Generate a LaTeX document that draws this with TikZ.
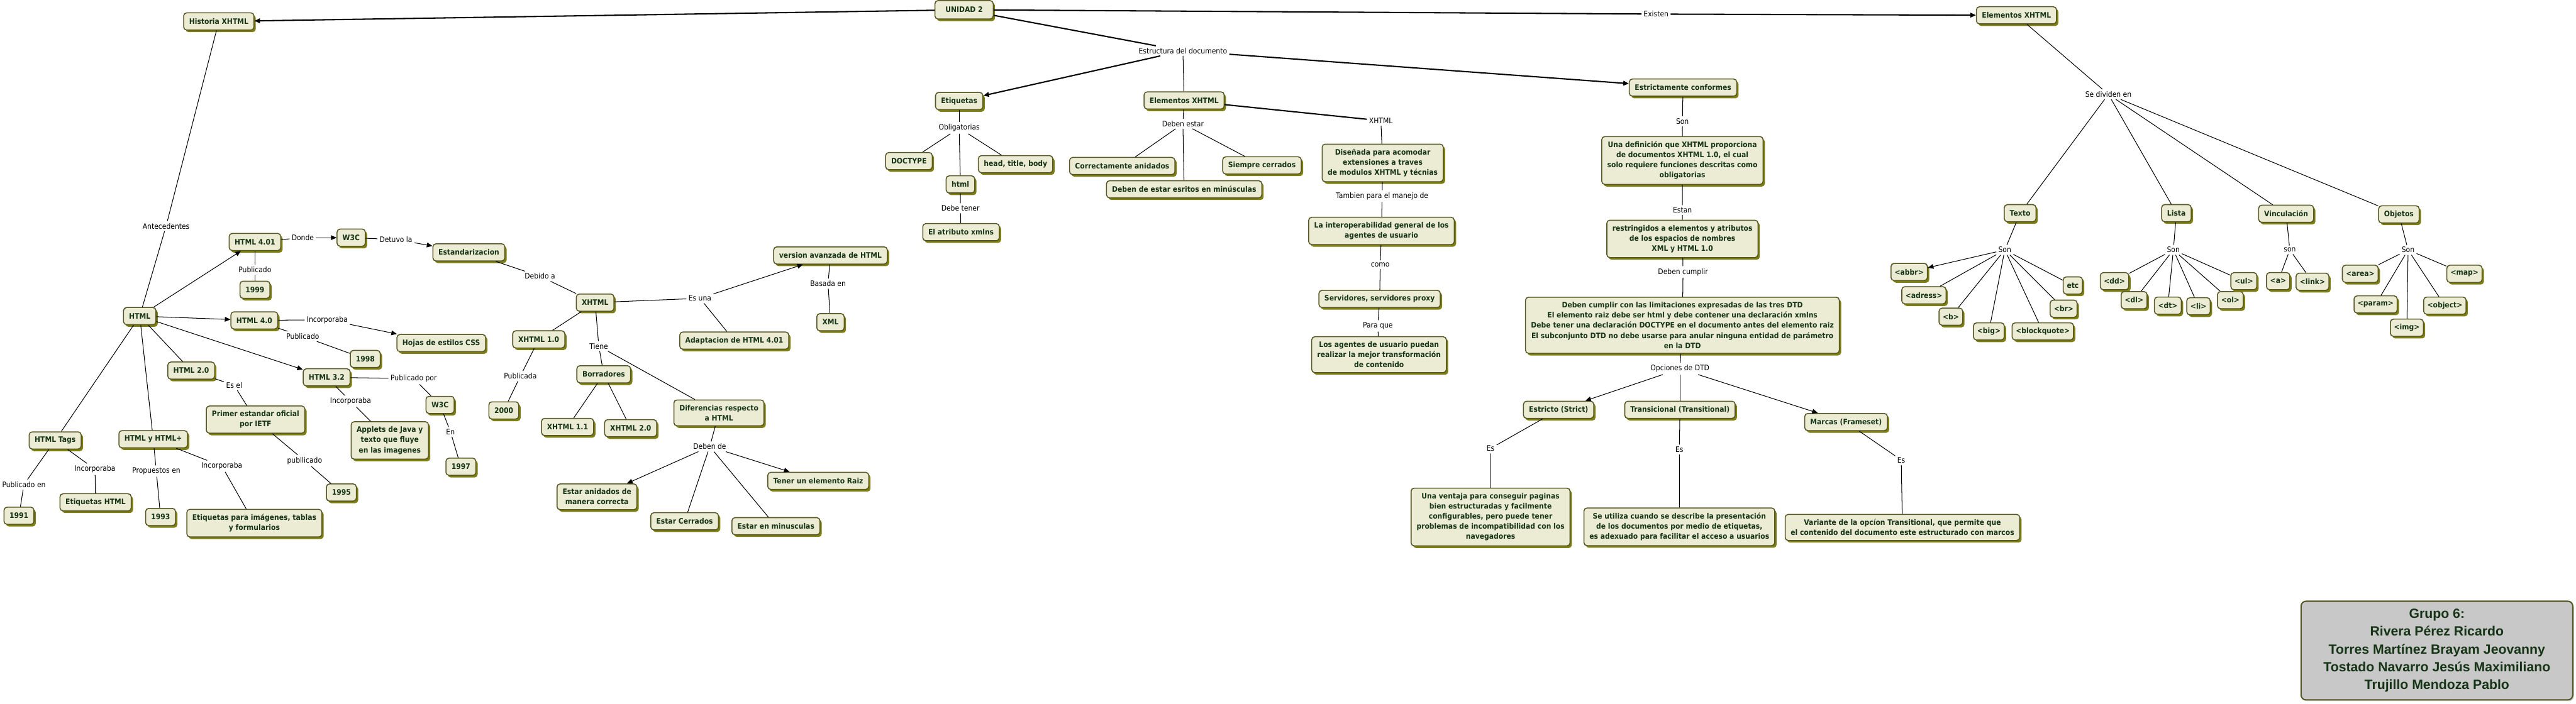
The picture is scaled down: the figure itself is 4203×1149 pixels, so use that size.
\documentclass[tikz,border=0pt]{standalone}
\usepackage{fontspec}
\newfontfamily\cmapfont{DejaVu Sans}[FakeStretch=0.9]
\newfontfamily\groupfont{Liberation Sans}
\usetikzlibrary{arrows.meta,shadows}
\definecolor{cfill}{RGB}{236,236,212}
\definecolor{cline}{RGB}{86,86,38}
\definecolor{cshade}{RGB}{128,128,16}
\definecolor{ctext}{RGB}{22,52,22}
\definecolor{gfill}{RGB}{200,200,200}

\begin{document}
\begin{tikzpicture}[
  x=0.01cm, y=-0.01cm,
  cpt/.style={draw=cline, line width=0.45pt, fill=cfill, rounded corners=0.05cm,
    drop shadow={shadow xshift=0.03cm, shadow yshift=-0.035cm, fill=cshade, opacity=1},
    text=ctext, font=\cmapfont\bfseries\fontsize{3.5}{4.7}\selectfont,
    align=center, inner xsep=0.09cm, inner ysep=0.08cm, minimum height=0.28cm},
  lnk/.style={font=\cmapfont\fontsize{3.5}{4.2}\selectfont, inner sep=0.8pt},
  con/.style={line width=0.3pt},
  bold/.style={line width=0.6pt},
  arr/.style={-{Triangle[length=2.6pt,width=2.2pt]}},
  grp/.style={draw=cline, line width=0.6pt, fill=gfill, rounded corners=0.08cm,
    drop shadow={shadow xshift=0.02cm, shadow yshift=-0.02cm, fill=black!20, opacity=1},
    text=ctext, font=\groupfont\bfseries\fontsize{6.2}{8.25}\selectfont,
    align=center, minimum width=4.43cm, minimum height=1.61cm}
]
\fill[white] (0,0) rectangle (4203,1149);
\useasboundingbox (0,0) rectangle (4203,1149);

% ---------------- top: the unit and its three branches ----------------------
\node[cpt, minimum width=0.95cm, minimum height=0.3cm] (unidad) at (1573,16) {UNIDAD 2};
\node[cpt] (historia) at (357,35) {Historia XHTML};
\node[cpt] (elemR) at (3290,25) {Elementos XHTML};
\node[lnk] (existen) at (2702,23) {Existen};
\node[lnk] (estructura) at (1930,83) {Estructura del documento};

\draw[bold, arr] (unidad) -- (historia);
\draw[bold] (unidad) -- (existen);
\draw[bold, arr] (existen) -- (elemR);
\draw[bold] (unidad) -- (estructura);

% ---------------- left: history of HTML -------------------------------------
\node[lnk] (antec) at (271,369) {Antecedentes};
\node[cpt] (html) at (228,516) {HTML};
\node[cpt] (h401) at (416,395) {HTML 4.01};
\node[lnk] (donde) at (494,388) {Donde};
\node[cpt] (w3cA) at (573,388) {W3C};
\node[lnk] (detuvo) at (646,391) {Detuvo la};
\node[cpt] (estandar) at (765,412) {Estandarizacion};
\node[lnk] (pub401) at (416,440) {Publicado};
\node[cpt] (y1999) at (416,473) {1999};
\node[cpt] (h40) at (415,523) {HTML 4.0};
\node[lnk] (inc40) at (534,522) {Incorporaba};
\node[cpt] (css) at (720,560) {Hojas de estilos CSS};
\node[lnk] (pub40) at (494,549) {Publicado};
\node[cpt] (y1998) at (596,586) {1998};
\node[cpt] (h20) at (312,605) {HTML 2.0};
\node[lnk] (esel) at (382,629) {Es el};
\node[cpt] (primer) at (417,685) {Primer estandar oficial\\por IETF};
\node[lnk] (pub20) at (497,752) {publlicado};
\node[cpt] (y1995) at (557,804) {1995};
\node[cpt] (h32) at (533,616) {HTML 3.2};
\node[lnk] (pubpor) at (675,618) {Publicado por};
\node[cpt] (w3cB) at (718,661) {W3C};
\node[lnk] (en) at (735,705) {En};
\node[cpt] (y1997) at (752,762) {1997};
\node[lnk] (inc32) at (572,655) {Incorporaba};
\node[cpt] (applets) at (636,719) {Applets de Java y\\texto que fluye\\en las imagenes};
\node[cpt] (tags) at (90,719) {HTML Tags};
\node[lnk] (pubEn) at (39,791) {Publicado en};
\node[cpt] (y1991) at (31,842) {1991};
\node[lnk] (incTags) at (155,766) {Incorporaba};
\node[cpt] (etiqhtml) at (156,820) {Etiquetas HTML};
\node[cpt] (hplus) at (250,717) {HTML y HTML+};
\node[lnk] (propuestos) at (255,769) {Propuestos en};
\node[cpt] (y1993) at (262,844) {1993};
\node[lnk] (incPlus) at (362,761) {Incorporaba};
\node[cpt] (etiqimg) at (415,854) {Etiquetas para imágenes, tablas\\y formularios};

\draw[con] (historia) -- (antec) -- (html);
\foreach \v in {h401,h40,h32} \draw[con, arr] (html) -- (\v);
\foreach \v in {h20,tags,hplus} \draw[con] (html) -- (\v);
\draw[con] (h401) -- (donde);
\draw[con, arr] (donde) -- (w3cA);
\draw[con] (w3cA) -- (detuvo);
\draw[con, arr] (detuvo) -- (estandar);
\draw[con] (h401) -- (pub401) -- (y1999);
\draw[con] (h40) -- (inc40);
\draw[con, arr] (inc40) -- (css);
\draw[con] (h40) -- (pub40) -- (y1998);
\draw[con] (h20) -- (esel) -- (primer) -- (pub20) -- (y1995);
\draw[con] (h32) -- (pubpor) -- (w3cB) -- (en) -- (y1997);
\draw[con] (h32) -- (inc32) -- (applets);
\draw[con] (tags) -- (pubEn) -- (y1991);
\draw[con] (tags) -- (incTags) -- (etiqhtml);
\draw[con] (hplus) -- (propuestos) -- (y1993);
\draw[con] (hplus) -- (incPlus) -- (etiqimg);

% ---------------- left: XHTML ------------------------------------------------
\node[lnk] (debido) at (881,451) {Debido a};
\node[cpt] (xhtml) at (971,494) {XHTML};
\node[lnk] (esuna) at (1142,487) {Es una};
\node[cpt] (version) at (1355,417) {version avanzada de HTML};
\node[lnk] (basada) at (1351,463) {Basada en};
\node[cpt] (xml) at (1355,526) {XML};
\node[cpt] (adapt) at (1198,556) {Adaptacion de HTML 4.01};
\node[cpt] (x10) at (879,554) {XHTML 1.0};
\node[lnk] (publicada) at (849,614) {Publicada};
\node[cpt] (y2000) at (822,670) {2000};
\node[lnk] (tiene) at (977,565) {Tiene};
\node[cpt] (borr) at (985,611) {Borradores};
\node[cpt] (x11) at (926,697) {XHTML 1.1};
\node[cpt] (x20) at (1029,699) {XHTML 2.0};
\node[cpt] (difer) at (1173,674) {Diferencias respecto\\a HTML};
\node[lnk] (debende) at (1158,729) {Deben de};
\node[cpt] (anidados) at (974,811) {Estar anidados de\\manera correcta};
\node[cpt] (cerrados) at (1117,851) {Estar Cerrados};
\node[cpt] (minus) at (1266,859) {Estar en minusculas};
\node[cpt] (raiz) at (1335,785) {Tener un elemento Raiz};

\draw[con] (estandar) -- (debido) -- (xhtml);
\draw[con] (xhtml) -- (esuna);
\draw[con, arr] (esuna) -- (version);
\draw[con] (esuna) -- (adapt);
\draw[con] (version) -- (basada) -- (xml);
\draw[con] (xhtml) -- (x10);
\draw[con] (x10) -- (publicada) -- (y2000);
\draw[con] (xhtml) -- (tiene) -- (borr);
\draw[con] (tiene) -- (difer);
\draw[con] (borr) -- (x11);
\draw[con] (borr) -- (x20);
\draw[con] (difer) -- (debende);
\draw[con, arr] (debende) -- (anidados);
\draw[con] (debende) -- (cerrados);
\draw[con] (debende) -- (minus);
\draw[con, arr] (debende) -- (raiz);

% ---------------- middle: document structure --------------------------------
\node[cpt] (etiquetas) at (1565,165) {Etiquetas};
\node[cpt] (elemM) at (1932,164) {Elementos XHTML};
\node[cpt] (estrict) at (2746,143) {Estrictamente conformes};
\node[lnk] (oblig) at (1565,209) {Obligatorias};
\node[cpt] (doctype) at (1483,263) {DOCTYPE};
\node[cpt] (htmltag) at (1567,301) {html};
\node[cpt] (head) at (1657,268) {head, title, body};
\node[lnk] (debetener) at (1567,340) {Debe tener};
\node[cpt] (xmlns) at (1568,379) {El atributo xmlns};
\node[lnk] (debenestar) at (1930,202) {Deben estar};
\node[cpt] (correct) at (1831,271) {Correctamente anidados};
\node[cpt] (siempre) at (2059,270) {Siempre cerrados};
\node[cpt] (minusc) at (1932,309) {Deben de estar esritos en minúsculas};
\node[lnk] (xhtmlLbl) at (2253,197) {XHTML};
\node[cpt] (disenada) at (2256,266) {Diseñada para acomodar\\extensiones a traves\\de modulos XHTML y técnias};
\node[lnk] (tambien) at (2255,320) {Tambien para el manejo de};
\node[cpt] (interop) at (2254,377) {La interoperabilidad general de los\\agentes de usuario};
\node[lnk] (como) at (2252,432) {como};
\node[cpt] (servidores) at (2251,488) {Servidores, servidores proxy};
\node[lnk] (paraque) at (2248,532) {Para que};
\node[cpt] (agentes) at (2250,579) {Los agentes de usuario puedan\\realizar la mejor transformación\\de contenido};

\draw[bold, arr] (estructura) -- (etiquetas);
\draw[con] (estructura) -- (elemM);
\draw[bold, arr] (estructura) -- (estrict);
\draw[con] (etiquetas) -- (oblig);
\foreach \v in {doctype,htmltag,head} \draw[con] (oblig) -- (\v);
\draw[con] (htmltag) -- (debetener) -- (xmlns);
\draw[con] (elemM) -- (debenestar);
\foreach \v in {correct,minusc,siempre} \draw[con] (debenestar) -- (\v);
\draw[bold] (elemM) -- (xhtmlLbl);
\draw[con] (xhtmlLbl) -- (disenada) -- (tambien) -- (interop) -- (como)
  -- (servidores) -- (paraque) -- (agentes);

% ---------------- middle: strictly conforming documents ---------------------
\node[lnk] (son) at (2745,198) {Son};
\node[cpt] (definicion) at (2745,262) {Una definición que XHTML proporciona\\de documentos XHTML 1.0, el cual\\solo requiere funciones descritas como\\obligatorias};
\node[lnk] (estan) at (2745,343) {Estan};
\node[cpt] (restring) at (2745,390) {restringidos a elementos y atributos\\de los espacios de nombres\\XML y HTML 1.0};
\node[lnk] (debencumplir) at (2746,444) {Deben cumplir};
\node[cpt] (limit) at (2745,531) {Deben cumplir con las limitaciones expresadas de las tres DTD\\El elemento raiz debe ser html y debe contener una declaración xmlns\\Debe tener una declaración DOCTYPE en el documento antes del elemento raiz\\El subconjunto DTD no debe usarse para anular ninguna entidad de parámetro\\en la DTD};
\node[lnk] (opciones) at (2741,602) {Opciones de DTD};
\node[cpt] (strict) at (2543,669) {Estricto (Strict)};
\node[cpt] (trans) at (2741,669) {Transicional (Transitional)};
\node[cpt] (frames) at (3012,689) {Marcas (Frameset)};
\node[lnk] (es1) at (2432,732) {Es};
\node[lnk] (es2) at (2740,734) {Es};
\node[lnk] (es3) at (3102,751) {Es};
\node[cpt] (ventaja) at (2432,844) {Una ventaja para conseguir paginas\\bien estructuradas y facilmente\\configurables, pero puede tener\\problemas de incompatibilidad con los\\navegadores};
\node[cpt] (utiliza) at (2740,860) {Se utiliza cuando se describe la presentación\\de los documentos por medio de etiquetas,\\es adexuado para facilitar el acceso a usuarios};
\node[cpt] (variante) at (3104,861) {Variante de la opcíon Transitional, que permite que\\el contenido del documento este estructurado con marcos};

\draw[con] (estrict) -- (son) -- (definicion) -- (estan) -- (restring)
  -- (debencumplir) -- (limit) -- (opciones);
\draw[con, arr] (opciones) -- (strict);
\draw[con] (opciones) -- (trans);
\draw[con, arr] (opciones) -- (frames);
\draw[con] (strict) -- (es1) -- (ventaja);
\draw[con] (trans) -- (es2) -- (utiliza);
\draw[con] (frames) -- (es3) -- (variante);

% ---------------- right: kinds of elements ----------------------------------
\node[lnk] (dividen) at (3440,154) {Se dividen en};
\node[cpt] (texto) at (3296,348) {Texto};
\node[cpt] (lista) at (3551,348) {Lista};
\node[cpt] (vincul) at (3730,349) {Vinculación};
\node[cpt] (objetos) at (3914,350) {Objetos};
\node[lnk] (sonT) at (3271,408) {Son};
\node[lnk] (sonL) at (3546,408) {Son};
\node[lnk] (sonV) at (3736,408) {son};
\node[lnk] (sonO) at (3929,408) {Son};
\foreach \n/\x/\y/\t in {abbr/3115/444/abbr, adress/3139/482/adress, b/3183/517/b,
    big/3245/541/big, blockq/3333/541/blockquote, br/3367/504/br,
    dd/3450/459/dd, dl/3482/490/dl, dt/3537/499/dt, li/3587/500/li,
    ol/3639/490/ol, ul/3661/459/ul, a/3717/459/a, link/3773/460/link,
    area/3851/447/area, param/3876/497/param, img/3927/535/img,
    object/3989/499/object, map/4021/447/map}
  \node[cpt, inner xsep=0.06cm] (\n) at (\x,\y) {<\t>};
\node[cpt, inner xsep=0.06cm] (etc) at (3382,466) {etc};

\draw[con] (elemR) -- (dividen);
\foreach \v in {texto,lista,vincul,objetos} \draw[con] (dividen) -- (\v);
\draw[con] (texto) -- (sonT);
\draw[con, arr] (sonT) -- (abbr);
\foreach \v in {adress,b,big,blockq,br,etc} \draw[con] (sonT) -- (\v);
\draw[con] (lista) -- (sonL);
\foreach \v in {dd,dl,dt,li,ol,ul} \draw[con] (sonL) -- (\v);
\draw[con] (vincul) -- (sonV);
\foreach \v in {a,link} \draw[con] (sonV) -- (\v);
\draw[con] (objetos) -- (sonO);
\foreach \v in {area,param,img,object,map} \draw[con] (sonO) -- (\v);

% ---------------- group ------------------------------------------------------
\node[grp] (grupo) at (3976,1062) {Grupo 6:\\Rivera Pérez Ricardo\\Torres Martínez Brayam Jeovanny\\Tostado Navarro Jesús Maximiliano\\Trujillo Mendoza Pablo};
\end{tikzpicture}
\end{document}
